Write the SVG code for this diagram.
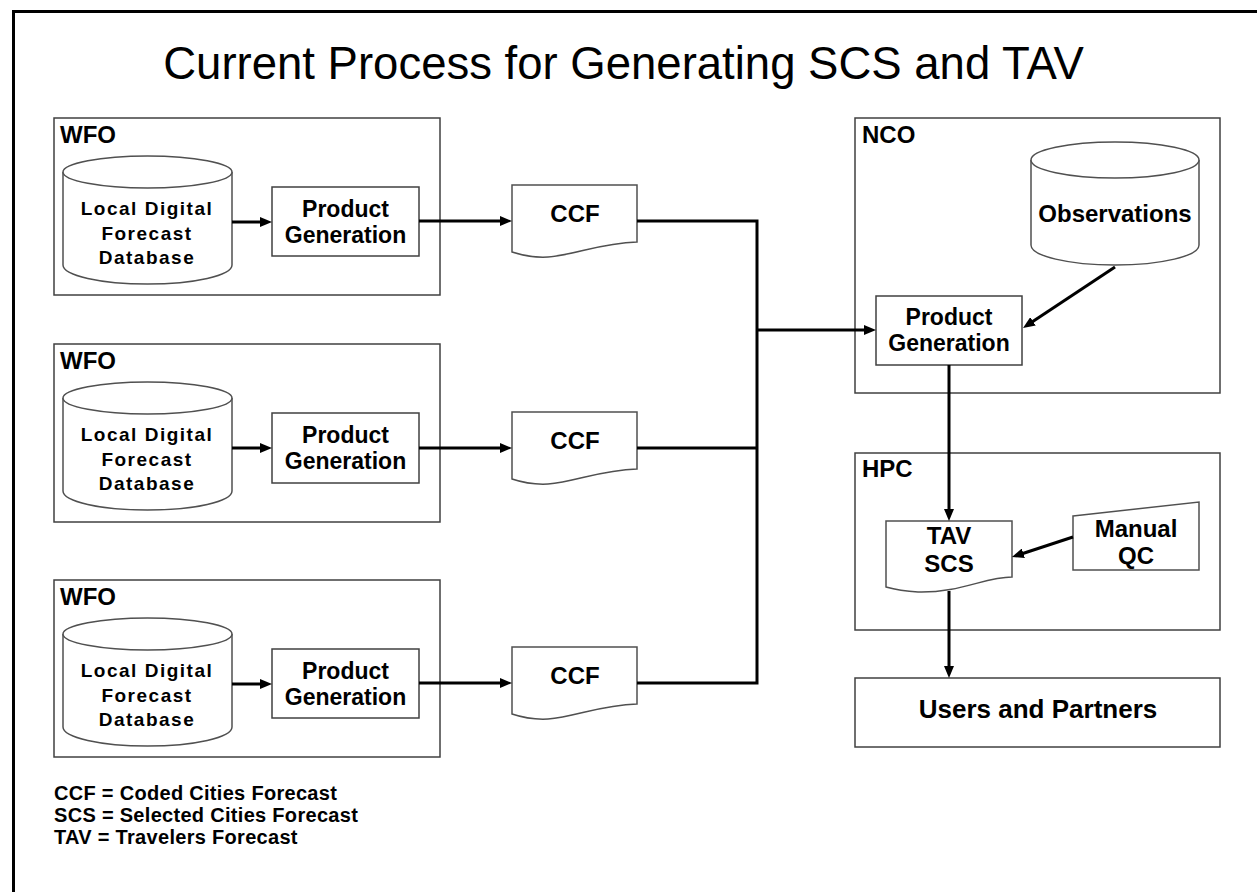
<svg xmlns="http://www.w3.org/2000/svg" width="1257" height="892" viewBox="0 0 1257 892">
<style>
.box{fill:#fff;stroke:#404040;stroke-width:1.5}
.shape{fill:#fff;stroke:#505050;stroke-width:1.5}
.lbl{font-family:"Liberation Sans",Arial,sans-serif;font-weight:bold;font-size:24px;fill:#000}
.pg{font-family:"Liberation Sans",Arial,sans-serif;font-weight:bold;font-size:23px;fill:#000;text-anchor:middle}
.db{font-family:"Liberation Sans",Arial,sans-serif;font-weight:bold;font-size:19px;letter-spacing:1.5px;fill:#000;text-anchor:middle}
.doc{font-family:"Liberation Sans",Arial,sans-serif;font-weight:bold;font-size:24px;fill:#000;text-anchor:middle}
.leg{font-family:"Liberation Sans",Arial,sans-serif;font-weight:bold;font-size:20px;letter-spacing:0.3px;fill:#000}
.title{font-family:"Liberation Sans",Arial,sans-serif;font-size:45.5px;fill:#000;text-anchor:middle}
.con{fill:none;stroke:#000;stroke-width:3}
.arr{marker-end:url(#ah)}
</style>
<defs>
<marker id="ah" markerUnits="userSpaceOnUse" markerWidth="12" markerHeight="10" refX="3" refY="5" orient="auto">
<path d="M0,0 L12,5 L0,10 z" fill="#000"/>
</marker>
</defs>
<rect width="1257" height="892" fill="#fff"/>
<path d="M13.5,892 V11.5 H1257" fill="none" stroke="#000" stroke-width="3"/>
<text class="title" x="623.5" y="79">Current Process for Generating SCS and TAV</text>

<g id="wfo1">
<rect class="box" x="54" y="118" width="386" height="177"/>
<text class="lbl" x="60" y="143">WFO</text>
<g id="db1">
<path class="shape" d="M63,172 V265 A84.5,19 0 0 0 232,265 V172"/>
<ellipse class="shape" cx="147.5" cy="172" rx="84.5" ry="16"/>
<text class="db" x="147" y="215">Local Digital</text>
<text class="db" x="147" y="240">Forecast</text>
<text class="db" x="147" y="264">Database</text>
</g>
<g id="pg1">
<rect class="box" x="272" y="187" width="147" height="69"/>
<text class="pg" x="345.5" y="217">Product</text>
<text class="pg" x="345.5" y="243">Generation</text>
</g>
</g>

<g id="wfo2">
<rect class="box" x="54" y="344" width="386" height="178"/>
<text class="lbl" x="60" y="369">WFO</text>
<g id="db2">
<path class="shape" d="M63,398 V491 A84.5,19 0 0 0 232,491 V398"/>
<ellipse class="shape" cx="147.5" cy="398" rx="84.5" ry="16"/>
<text class="db" x="147" y="441">Local Digital</text>
<text class="db" x="147" y="466">Forecast</text>
<text class="db" x="147" y="490">Database</text>
</g>
<g id="pg2">
<rect class="box" x="272" y="413" width="147" height="70"/>
<text class="pg" x="345.5" y="443">Product</text>
<text class="pg" x="345.5" y="469">Generation</text>
</g>
</g>

<g id="wfo3">
<rect class="box" x="54" y="580" width="386" height="177"/>
<text class="lbl" x="60" y="605">WFO</text>
<g id="db3">
<path class="shape" d="M63,634 V727 A84.5,19 0 0 0 232,727 V634"/>
<ellipse class="shape" cx="147.5" cy="634" rx="84.5" ry="16"/>
<text class="db" x="147" y="677">Local Digital</text>
<text class="db" x="147" y="702">Forecast</text>
<text class="db" x="147" y="726">Database</text>
</g>
<g id="pg3">
<rect class="box" x="272" y="649" width="147" height="69"/>
<text class="pg" x="345.5" y="679">Product</text>
<text class="pg" x="345.5" y="705">Generation</text>
</g>
</g>

<g id="ccf1">
<path class="shape" d="M512,185 H637 V242 C600,243 575,255 548,257 Q530,258 512,252 Z"/>
<text class="doc" x="575" y="222">CCF</text>
</g>
<g id="ccf2">
<path class="shape" d="M512,412 H637 V469 C600,470 575,482 548,484 Q530,485 512,479 Z"/>
<text class="doc" x="575" y="449">CCF</text>
</g>
<g id="ccf3">
<path class="shape" d="M512,647 H637 V704 C600,705 575,717 548,719 Q530,720 512,714 Z"/>
<text class="doc" x="575" y="684">CCF</text>
</g>

<g id="nco">
<rect class="box" x="855" y="118" width="365" height="275"/>
<text class="lbl" x="862" y="143">NCO</text>
<g id="obs">
<path class="shape" d="M1031,160 V245 A84,20 0 0 0 1199,245 V160"/>
<ellipse class="shape" cx="1115" cy="160" rx="84" ry="18"/>
<text class="doc" x="1115" y="222">Observations</text>
</g>
<g id="pgnco">
<rect class="box" x="876" y="296" width="146" height="69"/>
<text class="pg" x="949" y="325">Product</text>
<text class="pg" x="949" y="351">Generation</text>
</g>
</g>

<g id="hpc">
<rect class="box" x="855" y="453" width="365" height="177"/>
<text class="lbl" x="862" y="477">HPC</text>
<g id="tav">
<path class="shape" d="M886,521 H1012 V577 C985,577 960,593 918,592 Q900,591 886,587 Z"/>
<text class="doc" x="949" y="544">TAV</text>
<text class="doc" x="949" y="572">SCS</text>
</g>
<g id="mqc">
<path class="shape" d="M1073,516 L1199,502 V570 H1073 Z"/>
<text class="doc" x="1136" y="537">Manual</text>
<text class="doc" x="1136" y="564">QC</text>
</g>
</g>

<g id="users">
<rect class="box" x="855" y="678" width="365" height="69"/>
<text class="doc" x="1038" y="718" style="font-size:26px">Users and Partners</text>
</g>

<g id="connectors">
<line class="con arr" x1="232" y1="222" x2="263" y2="222"/>
<line class="con arr" x1="419" y1="221" x2="503" y2="221"/>
<line class="con arr" x1="232" y1="448" x2="263" y2="448"/>
<line class="con arr" x1="419" y1="448" x2="503" y2="448"/>
<line class="con arr" x1="232" y1="684" x2="263" y2="684"/>
<line class="con arr" x1="419" y1="683" x2="503" y2="683"/>
<path class="con" d="M637,221 H757 V683 H637"/>
<line class="con" x1="637" y1="448" x2="757" y2="448"/>
<line class="con arr" x1="757" y1="330" x2="867" y2="330"/>
<line class="con arr" x1="1115" y1="267" x2="1030.5" y2="323"/>
<line class="con arr" x1="949" y1="365" x2="949" y2="512"/>
<line class="con arr" x1="1073" y1="537" x2="1020.5" y2="554.2"/>
<line class="con arr" x1="949" y1="591" x2="949" y2="669"/>
</g>

<g id="legend">
<text class="leg" x="54" y="800">CCF = Coded Cities Forecast</text>
<text class="leg" x="54" y="822">SCS = Selected Cities Forecast</text>
<text class="leg" x="54" y="844">TAV = Travelers Forecast</text>
</g>
</svg>
